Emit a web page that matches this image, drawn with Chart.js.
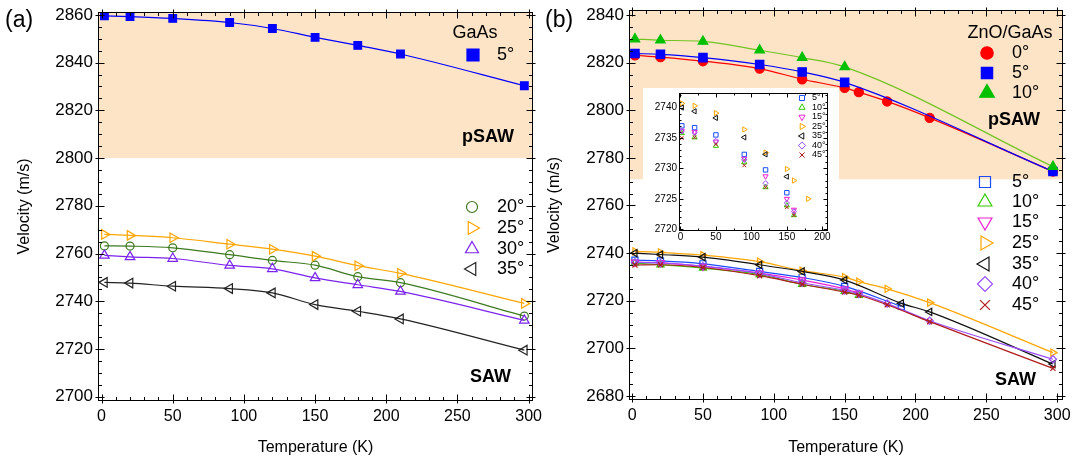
<!DOCTYPE html>
<html>
<head>
<meta charset="utf-8">
<script src="https://cdn.jsdelivr.net/npm/chart.js@4.4.1/dist/chart.umd.min.js"></script>
<style>
body { margin: 0; background: #fff; }
#wrap { position: relative; width: 1078px; height: 460px; overflow: hidden; font-family: 'Liberation Sans', Arial, sans-serif; }
canvas { position: absolute; }
#cA { left: 0; top: 0; }
#cB { left: 545px; top: 0; }
#cIn { left: 643px; top: 88px; background: #fff; }
.lab { position: absolute; font-size: 23px; line-height: 23px; }
</style>
</head>
<body>
<div id="wrap">
  <canvas id="cA" width="545" height="460"></canvas>
  <canvas id="cB" width="533" height="460"></canvas>
  <canvas id="cIn" width="196" height="158"></canvas>
  <div class="lab" style="left:5px; top:8px">(a)</div>
  <div class="lab" style="left:545px; top:8px">(b)</div>
</div>
<script>
'use strict';
Chart.defaults.font.family = "'Liberation Sans', Arial, sans-serif";
Chart.defaults.color = '#000';

// panel (a) : GaAs
const tempA = [2, 20, 50, 90, 120, 150, 180, 210, 297];
const gaas5 = [2859.6, 2859.3, 2858.5, 2856.8, 2854.3, 2850.6, 2847.2, 2843.6, 2830.3];
const gaas20 = [2763.2, 2763.1, 2762.4, 2759.5, 2757.1, 2755.1, 2750.3, 2747.8, 2733.8];
const gaas25 = [2768.0, 2767.6, 2766.6, 2763.9, 2761.8, 2758.9, 2754.9, 2751.7, 2739.1];
const gaas30 = [2759.2, 2758.6, 2757.9, 2755.0, 2753.6, 2749.8, 2746.9, 2744.1, 2732.0];
const gaas35 = [2747.9, 2747.6, 2746.3, 2745.3, 2743.5, 2738.6, 2735.8, 2732.6, 2719.5];

// panel (b) : ZnO/GaAs, pSAW branch
const tempRed = [2, 20, 50, 90, 120, 150, 160, 180, 210, 297];
const zno0 = [2823.1, 2822.3, 2820.6, 2817.5, 2813.0, 2809.4, 2807.6, 2803.7, 2796.8, 2774.3];
const tempP = [2, 20, 50, 90, 120, 150, 297];
const zno5 = [2823.8, 2823.5, 2822.1, 2819.2, 2816.1, 2811.7, 2774.3];
const zno10 = [2829.9, 2829.4, 2828.9, 2825.2, 2822.1, 2818.2, 2776.3];

// panel (b) : SAW branch (null = not measured)
const tempS = [2, 20, 50, 90, 120, 150, 160, 180, 190, 210, 297];
const saw5 = [2737.0, 2736.7, 2735.5, 2732.3, 2729.75, 2726.0, null, null, 2717.6, null, null];
const saw10 = [2735.8, 2735.1, 2733.7, 2731.0, 2726.9, 2723.9, 2722.3, null, null, null, null];
const saw15 = [2736.2, 2736.0, 2734.4, 2731.6, 2728.7, 2725.0, 2723.2, null, null, null, null];
const saw25 = [2740.7, 2740.3, 2739.1, 2736.4, 2732.6, 2729.9, 2728.0, 2725.0, null, 2719.2, 2698.2];
const saw35 = [2740.0, 2739.4, 2738.3, 2735.1, 2732.3, 2728.65, null, null, 2718.9, 2715.3, 2693.4];
const saw40 = [2736.1, 2735.85, 2734.5, 2731.4, 2727.55, 2724.3, 2722.9, 2718.8, null, 2711.6, 2695.4];
const saw45 = [2735.0, 2735.1, 2733.95, 2730.5, 2726.9, 2723.6, 2722.3, 2718.3, null, 2711.2, 2691.6];

// ticks and texts
const xTicks = [0, 50, 100, 150, 200, 250, 300];
const yTicksA = [2700, 2720, 2740, 2760, 2780, 2800, 2820, 2840, 2860];
const yTicksB = [2680, 2700, 2720, 2740, 2760, 2780, 2800, 2820, 2840];
const xTicksIn = [0, 50, 100, 150, 200];
const yTicksIn = [2720, 2725, 2730, 2735, 2740];
const titleA = 'GaAs';
const titleB = 'ZnO/GaAs';
const xTitle = 'Temperature (K)';
const yTitle = 'Velocity (m/s)';

const FONT = '"Liberation Sans", Arial, sans-serif';

function pts(t, v) {
  return t.map((x, i) => ({ x: x, y: v[i] }));
}

function series(label, t, v, color, style, r, extra) {
  return Object.assign({
    label: label,
    data: pts(t, v),
    showLine: true,
    spanGaps: true,
    cubicInterpolationMode: 'monotone',
    borderColor: color,
    borderWidth: 1.2,
    pointStyle: style,
    pointRadius: r,
    pointBorderColor: color,
    pointBackgroundColor: 'rgba(0,0,0,0)',
    pointBorderWidth: 1.2,
    pointRotation: 0
  }, extra || {});
}

// peach band, box and inner ticks
const framePlugin = {
  id: 'frame',
  beforeDatasetsDraw(chart, args, o) {
    if (o.band == null) return;
    const { ctx, chartArea: a } = chart;
    const yb = chart.scales.y.getPixelForValue(o.band);
    ctx.save();
    ctx.fillStyle = '#fde4c6';
    ctx.fillRect(a.left, a.top, a.right - a.left, yb - a.top);
    ctx.restore();
  },
  afterDraw(chart, args, o) {
    const { ctx, chartArea: a, scales: { x, y } } = chart;
    const L = Math.round(a.left) + 0.5, R = Math.round(a.right) - 0.5;
    const T = Math.round(a.top) + 0.5, B = Math.round(a.bottom) - 0.5;
    ctx.save();
    ctx.strokeStyle = '#000';
    ctx.lineWidth = 1;
    ctx.strokeRect(L, T, R - L, B - T);
    ctx.beginPath();
    for (let v = Math.ceil(x.min / o.xStep) * o.xStep; v <= x.max; v += o.xStep) {
      const p = Math.round(x.getPixelForValue(v)) + 0.5;
      const big = o.xMajor.includes(v);
      ctx.moveTo(p, B + (big ? o.out : 0)); ctx.lineTo(p, B - (big ? o.major : o.minor));
      ctx.moveTo(p, T - (big ? o.out : 0)); ctx.lineTo(p, T + (big ? o.major : o.minor));
    }
    for (let v = Math.ceil(y.min / o.yStep) * o.yStep; v <= y.max; v += o.yStep) {
      const p = Math.round(y.getPixelForValue(v)) + 0.5;
      const big = o.yMajor.includes(v);
      ctx.moveTo(L - (big ? o.out : 0), p); ctx.lineTo(L + (big ? o.major : o.minor), p);
      ctx.moveTo(R + (big ? o.out : 0), p); ctx.lineTo(R - (big ? o.major : o.minor), p);
    }
    ctx.stroke();
    ctx.restore();
  }
};

// hand placed legends
const keyPlugin = {
  id: 'keys',
  afterDatasetsDraw(chart, args, o) {
    const ctx = chart.ctx;
    ctx.save();
    ctx.textBaseline = 'middle';
    (o.texts || []).forEach(t => {
      ctx.font = t.font;
      ctx.fillStyle = '#000';
      ctx.textAlign = t.align || 'left';
      ctx.fillText(t.text, t.x, t.y);
    });
    (o.items || []).forEach(it => {
      const ds = chart.data.datasets[it.ds];
      ctx.strokeStyle = ds.pointBorderColor;
      ctx.fillStyle = ds.pointBackgroundColor;
      ctx.lineWidth = ds.pointBorderWidth;
      Chart.helpers.drawPoint(ctx, {
        pointStyle: ds.pointStyle, radius: it.r, rotation: ds.pointRotation,
        borderWidth: ds.pointBorderWidth
      }, it.x, it.y);
      ctx.fillStyle = '#000';
      ctx.font = o.font;
      ctx.textAlign = 'left';
      ctx.fillText(ds.label, it.tx, it.y);
    });
    ctx.restore();
  }
};

function axes(xmin, xmax, xt, ymin, ymax, yt, yw, xh, size, ytitlePad) {
  const small = size < 12;
  const sc = {
    x: {
      type: 'linear', min: xmin, max: xmax,
      afterBuildTicks: s => { s.ticks = xt.map(v => ({ value: v })); },
      afterFit: s => { s.height = xh; s.paddingLeft = 0; s.paddingRight = 0; },
      grid: { display: false, drawTicks: false },
      border: { display: false },
      ticks: { font: { size: small ? size : 16 }, padding: small ? 0 : 6, maxRotation: 0, autoSkip: false, callback: v => String(v) }
    },
    y: {
      type: 'linear', min: ymin, max: ymax,
      afterBuildTicks: s => { s.ticks = yt.map(v => ({ value: v })); },
      afterFit: s => { s.width = yw; s.paddingTop = 0; s.paddingBottom = 0; },
      grid: { display: false, drawTicks: false },
      border: { display: false },
      ticks: { font: { size: small ? size : 17 }, padding: small ? 2 : 5, autoSkip: false, callback: v => String(v) }
    }
  };
  if (ytitlePad != null) {
    sc.x.title = { display: true, text: xTitle, font: { size: 16 }, padding: { top: 0, bottom: 3 } };
    sc.y.title = { display: true, text: yTitle, font: { size: 16 }, padding: { top: ytitlePad, bottom: 0 } };
  }
  return sc;
}

function ordered(list) {
  list.forEach((d, i) => { d.order = -i; });
  return list;
}

// ---------- panel (a)
new Chart(document.getElementById('cA'), {
  type: 'scatter',
  data: {
    datasets: ordered([
      series('5°', tempA, gaas5, '#0000ff', 'rect', 5.4, { pointBackgroundColor: '#0000ff' }),
      series('20°', tempA, gaas20, '#3d7a1f', 'circle', 4),
      series('25°', tempA, gaas25, '#ffa500', 'triangle', 5.5, { pointRotation: 90 }),
      series('30°', tempA, gaas30, '#7a22ee', 'triangle', 5.5),
      series('35°', tempA, gaas35, '#222222', 'triangle', 5.5, { pointRotation: -90 })
    ])
  },
  options: {
    responsive: false, animation: false, events: [],
    layout: { padding: { left: 0, top: 12, right: 12, bottom: 0 } },
    scales: axes(-2.5, 303.1, xTicks, 2698.2, 2861.2, yTicksA, 98, 59, 16, 15),
    plugins: {
      legend: { display: false }, tooltip: { enabled: false },
      frame: { band: 2800, xMajor: xTicks, yMajor: yTicksA, xStep: 10, yStep: 5, major: 6, minor: 3.5, out: 3 },
      keys: {
        font: '18px ' + FONT,
        texts: [
          { text: titleA, x: 475, y: 33, align: 'center', font: '18px ' + FONT },
          { text: 'pSAW', x: 462, y: 137, font: 'bold 18px ' + FONT },
          { text: 'SAW', x: 470, y: 377, font: 'bold 18px ' + FONT }
        ],
        items: [
          { ds: 0, x: 473, y: 55, r: 8.5, tx: 497 },
          { ds: 1, x: 472, y: 207, r: 5.5, tx: 497 },
          { ds: 2, x: 472, y: 228, r: 7.5, tx: 497 },
          { ds: 3, x: 472, y: 249, r: 7.5, tx: 497 },
          { ds: 4, x: 472, y: 269, r: 7.5, tx: 497 }
        ]
      }
    }
  },
  plugins: [framePlugin, keyPlugin]
});

// ---------- panel (b)
function sawSets(r, line) {
  const ex = line ? {} : { showLine: false, pointBorderWidth: 1 };
  return [
    series('5°', tempS, saw5, '#1a4cff', 'rect', r * 1.2, ex),
    series('10°', tempS, saw10, '#33cc00', 'triangle', r * 1.15, ex),
    series('15°', tempS, saw15, '#f01ed2', 'triangle', r * 1.15, Object.assign({ pointRotation: 180 }, ex)),
    series('25°', tempS, saw25, '#ffa500', 'triangle', r * 1.15, Object.assign({ pointRotation: 90 }, ex)),
    series('35°', tempS, saw35, '#111111', 'triangle', r * 1.15, Object.assign({ pointRotation: -90 }, ex)),
    series('40°', tempS, saw40, '#9a4dff', 'rectRot', r, ex),
    series('45°', tempS, saw45, '#b01c1c', 'crossRot', r, ex)
  ];
}

new Chart(document.getElementById('cB'), {
  type: 'scatter',
  data: {
    datasets: ordered([
      series('0°', tempRed, zno0, '#ff0000', 'circle', 4.6, { pointBackgroundColor: '#ff0000' }),
      series('5°', tempP, zno5, '#0000ff', 'rect', 5.9, { pointBackgroundColor: '#0000ff' }),
      series('10°', tempP, zno10, '#00c000', 'triangle', 5.5, { pointBackgroundColor: '#00c000', borderColor: '#72c423' })
    ].concat(sawSets(3.6, true)))
  },
  options: {
    responsive: false, animation: false, events: [],
    layout: { padding: { left: 0, top: 10, right: 15, bottom: 0 } },
    scales: axes(-2.2, 304.1, xTicks, 2678.3, 2842.1, yTicksB, 84, 60, 16, 0),
    plugins: {
      legend: { display: false }, tooltip: { enabled: false },
      frame: { band: 2771, xMajor: xTicks, yMajor: yTicksB, xStep: 10, yStep: 5, major: 6, minor: 3.5, out: 3 },
      keys: {
        font: '18px ' + FONT,
        texts: [
          { text: titleB, x: 465, y: 33, align: 'center', font: '18px ' + FONT },
          { text: 'pSAW', x: 443, y: 120, font: 'bold 18px ' + FONT },
          { text: 'SAW', x: 450, y: 380, font: 'bold 18px ' + FONT }
        ],
        items: [
          { ds: 0, x: 442, y: 53, r: 6.2, tx: 467 },
          { ds: 1, x: 442, y: 73, r: 8, tx: 467 },
          { ds: 2, x: 442, y: 93, r: 8.5, tx: 467 },
          { ds: 3, x: 440, y: 182, r: 7.8, tx: 467 },
          { ds: 4, x: 440, y: 202, r: 8, tx: 467 },
          { ds: 5, x: 440, y: 222, r: 8, tx: 467 },
          { ds: 6, x: 440, y: 243, r: 8, tx: 467 },
          { ds: 7, x: 440, y: 264, r: 8, tx: 467 },
          { ds: 8, x: 440, y: 284, r: 7.5, tx: 467 },
          { ds: 9, x: 440, y: 305, r: 7, tx: 467 }
        ]
      }
    }
  },
  plugins: [framePlugin, keyPlugin]
});

// ---------- inset of panel (b)
new Chart(document.getElementById('cIn'), {
  type: 'scatter',
  data: { datasets: ordered(sawSets(2.6, false)) },
  options: {
    responsive: false, animation: false, events: [],
    layout: { padding: { left: 0, top: 3, right: 11, bottom: 0 } },
    scales: axes(-2, 208, xTicksIn, 2719.7, 2742.4, yTicksIn, 36, 15, 10, null),
    plugins: {
      legend: { display: false }, tooltip: { enabled: false },
      frame: { band: null, xMajor: xTicksIn, yMajor: yTicksIn, xStep: 25, yStep: 1, major: 4, minor: 2, out: 0 },
      keys: {
        font: '9px ' + FONT,
        items: [0, 1, 2, 3, 4, 5, 6].map(i => ({ ds: i, x: 159, y: 10 + i * 9.5, r: 3.6, tx: 169 }))
      }
    }
  },
  plugins: [framePlugin, keyPlugin]
});
</script>
</body>
</html>
